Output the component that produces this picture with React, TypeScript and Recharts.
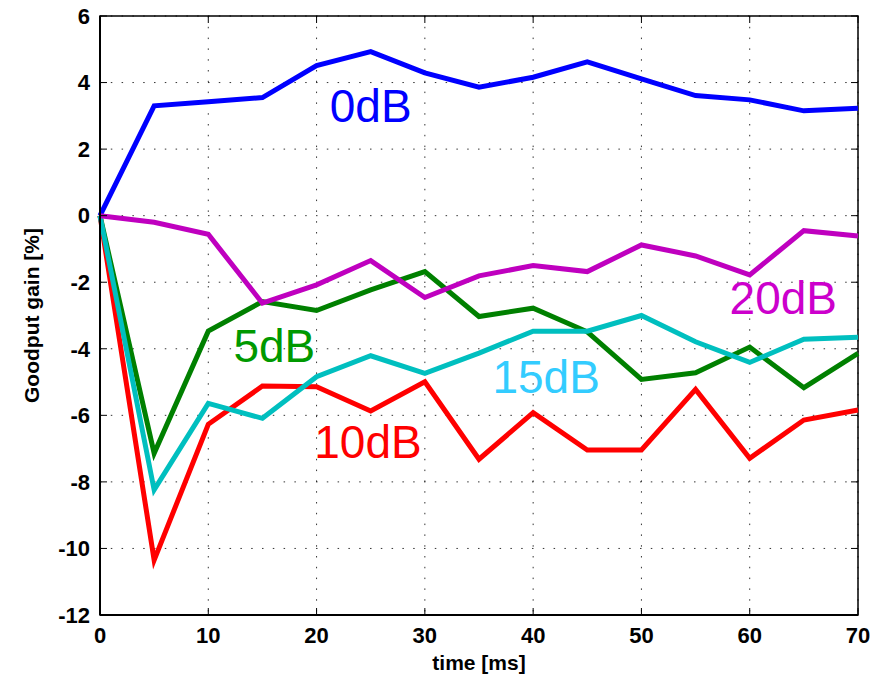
import {
  CartesianGrid,
  Line,
  LineChart,
  ReferenceArea,
  ReferenceDot,
  XAxis,
  YAxis,
} from 'recharts'

// time axis (ms) and goodput gain per SNR (%)
const TIMES = [0, 5, 10, 15, 20, 25, 30, 35, 40, 45, 50, 55, 60, 65, 70]
const GAIN_0DB = [0, 3.3, 3.42, 3.55, 4.51, 4.93, 4.29, 3.86, 4.16, 4.62, 4.11, 3.61, 3.48, 3.15, 3.23]
const GAIN_5DB = [0, -7.14, -3.47, -2.58, -2.85, -2.23, -1.68, -3.03, -2.78, -3.49, -4.92, -4.72, -3.95, -5.17, -4.14]
const GAIN_10DB = [0, -10.35, -6.27, -5.12, -5.14, -5.87, -4.99, -7.32, -5.92, -7.04, -7.04, -5.22, -7.29, -6.14, -5.84]
const GAIN_15DB = [0, -8.24, -5.64, -6.09, -4.84, -4.21, -4.74, -4.13, -3.47, -3.47, -3.0, -3.79, -4.41, -3.71, -3.65]
const GAIN_20DB = [0, -0.2, -0.56, -2.63, -2.08, -1.35, -2.46, -1.81, -1.5, -1.68, -0.88, -1.21, -1.78, -0.45, -0.61]

const X_TICKS = [0, 10, 20, 30, 40, 50, 60, 70]
const Y_TICKS = [-12, -10, -8, -6, -4, -2, 0, 2, 4, 6]

// in-plot series labels, placed in data units
const LABEL_TEXT = ['0dB', '5dB', '10dB', '15dB', '20dB']
const LABEL_X = [25, 16.1, 24.75, 41.2, 63.1]
const LABEL_Y = [3.3, -3.92, -6.79, -4.86, -2.48]

const SERIES = [
  { key: 'db0', values: GAIN_0DB, color: '#0000ff' },
  { key: 'db5', values: GAIN_5DB, color: '#008000' },
  { key: 'db10', values: GAIN_10DB, color: '#ff0000' },
  { key: 'db15', values: GAIN_15DB, color: '#00bfbf' },
  { key: 'db20', values: GAIN_20DB, color: '#bf00bf' },
]
const LABEL_COLORS = ['#0000ff', '#009900', '#ff0000', '#33ccff', '#cc00cc']

const W = 881
const H = 675
const PLOT = { left: 100, top: 16, right: 858, bottom: 615 }
const TICK_LEN = 7
const FONT = '"Liberation Sans", Arial, Helvetica, sans-serif'

const rows = TIMES.map((t, i) => {
  const row: Record<string, number> = { t }
  SERIES.forEach((s) => {
    row[s.key] = s.values[i]
  })
  return row
})

function XTick(props: any) {
  const { x, y, payload } = props
  return (
    <g>
      <line x1={x} x2={x} y1={PLOT.bottom} y2={PLOT.bottom - TICK_LEN} stroke="#000" />
      <line x1={x} x2={x} y1={PLOT.top} y2={PLOT.top + TICK_LEN} stroke="#000" />
      <text x={x} y={y} dy="0.71em" textAnchor="middle" fontSize={22} fontWeight="bold" fontFamily={FONT} fill="#000">
        {payload.value}
      </text>
    </g>
  )
}

function YTick(props: any) {
  const { x, y, payload } = props
  return (
    <g>
      <line x1={PLOT.left} x2={PLOT.left + TICK_LEN} y1={y} y2={y} stroke="#000" />
      <line x1={PLOT.right} x2={PLOT.right - TICK_LEN} y1={y} y2={y} stroke="#000" />
      <text x={x} y={y} dy="0.355em" textAnchor="end" fontSize={22} fontWeight="bold" fontFamily={FONT} fill="#000">
        {payload.value}
      </text>
    </g>
  )
}

function seriesLabel(text: string, color: string) {
  return (props: any) => (
    <text
      x={props.cx}
      y={props.cy}
      textAnchor="middle"
      dominantBaseline="central"
      fontSize={46}
      fontFamily={FONT}
      fill={color}
    >
      {text}
    </text>
  )
}

export default function App() {
  return (
    <div style={{ position: 'absolute', left: 0, top: 0, width: W, height: H, background: '#fff' }}>
      <LineChart
        width={W}
        height={H}
        data={rows}
        margin={{ top: PLOT.top, right: W - PLOT.right, bottom: 0, left: 0 }}
      >
        <CartesianGrid stroke="#000" strokeDasharray="1.5 9.3" strokeOpacity={0.8} />
        <XAxis
          dataKey="t"
          type="number"
          domain={[0, 70]}
          ticks={X_TICKS}
          height={H - PLOT.bottom}
          tickSize={0}
          tickMargin={12}
          tick={<XTick />}
          axisLine={{ stroke: '#000', strokeWidth: 2 }}
          label={{
            value: 'time [ms]',
            position: 'insideBottom',
            offset: 5,
            fontSize: 21,
            fontWeight: 'bold',
            fontFamily: FONT,
            fill: '#000',
          }}
        />
        <YAxis
          type="number"
          domain={[-12, 6]}
          ticks={Y_TICKS}
          width={PLOT.left}
          tickSize={0}
          tickMargin={10}
          tick={<YTick />}
          axisLine={{ stroke: '#000', strokeWidth: 2 }}
          label={{
            value: 'Goodput gain [%]',
            angle: -90,
            position: 'insideLeft',
            offset: 32,
            style: { textAnchor: 'middle' },
            fontSize: 21,
            fontWeight: 'bold',
            fontFamily: FONT,
            fill: '#000',
          }}
        />
        {SERIES.map((s) => (
          <Line
            key={s.key}
            dataKey={s.key}
            type="linear"
            stroke={s.color}
            strokeWidth={5}
            dot={false}
            activeDot={false}
            isAnimationActive={false}
          />
        ))}
        <ReferenceArea x1={0} x2={70} y1={-12} y2={6} fill="none" stroke="#000" strokeWidth={1.5} fillOpacity={0} />
        {LABEL_TEXT.map((text, i) => (
          <ReferenceDot
            key={text}
            x={LABEL_X[i]}
            y={LABEL_Y[i]}
            r={0}
            shape={seriesLabel(text, LABEL_COLORS[i])}
          />
        ))}
      </LineChart>
    </div>
  )
}
